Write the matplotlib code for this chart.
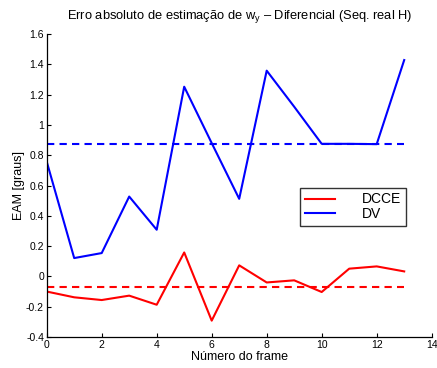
import matplotlib
matplotlib.use("Agg")
import matplotlib.pyplot as plt

plt.rcParams["font.family"] = ["Liberation Sans", "DejaVu Sans"]
plt.rcParams["axes.unicode_minus"] = False
plt.rcParams["mathtext.fontset"] = "custom"
plt.rcParams["mathtext.rm"] = "Liberation Sans"
plt.rcParams["mathtext.it"] = "Liberation Sans"

frames = list(range(14))
dcce = [-0.10, -0.138, -0.156, -0.127, -0.187, 0.158, -0.292,
        0.073, -0.040, -0.026, -0.103, 0.051, 0.066, 0.033]
dv = [0.758, 0.121, 0.154, 0.527, 0.308, 1.252, 0.88,
      0.512, 1.358, 1.12, 0.875, 0.875, 0.873, 1.428]
dcce_mean = -0.07
dv_mean = 0.875

xticks = [0, 2, 4, 6, 8, 10, 12, 14]
yticks = [-0.4, -0.2, 0, 0.2, 0.4, 0.6, 0.8, 1, 1.2, 1.4, 1.6]
ytick_labels = ["-0.4", "-0.2", "0", "0.2", "0.4", "0.6", "0.8", "1", "1.2", "1.4", "1.6"]

W, H = 437, 368
fig = plt.figure(figsize=(W / 100, H / 100), dpi=100)
ax = fig.add_axes([46.7 / W, (H - 337) / H, (431.7 - 46.7) / W, (337 - 34) / H])

ax.plot(frames, dcce, color="#ff0000", lw=1.5, label="DCCE")
ax.plot(frames, dv, color="#0000ff", lw=1.5, label="DV")
ax.plot([frames[0], frames[-1]], [dcce_mean, dcce_mean], color="#ff0000", lw=1.5, ls=(0, (3.5, 2.5)))
ax.plot([frames[0], frames[-1]], [dv_mean, dv_mean], color="#0000ff", lw=1.5, ls=(0, (3.5, 2.5)))

ax.set_xlim(0, 14)
ax.set_ylim(-0.4, 1.6)
ax.set_xticks(xticks)
ax.set_xticklabels([str(t) for t in xticks])
ax.set_yticks(yticks)
ax.set_yticklabels(ytick_labels)
ax.tick_params(direction="in", length=3, width=0.8, labelsize=7.5, pad=2)
for s in ("top", "right"):
    ax.spines[s].set_visible(False)
for s in ("left", "bottom"):
    ax.spines[s].set_linewidth(0.9)

ax.set_xlabel("Número do frame", fontsize=9, labelpad=1)
ax.set_ylabel("EAM [graus]", fontsize=9, labelpad=0.5)
fig.text(240 / W, 1 - 17 / H, r"Erro absoluto de estimação de w$_\mathregular{y}$ – Diferencial (Seq. real H)",
         ha="center", va="center", fontsize=9.3)

leg = ax.legend(loc="upper left", bbox_to_anchor=(300 / W, 1 - 187.5 / H),
                bbox_transform=fig.transFigure, fontsize=10, frameon=True, fancybox=False,
                edgecolor="black", handlelength=2.2, handletextpad=1.9, labelspacing=0.02,
                borderpad=0.35, borderaxespad=0)
leg.get_frame().set_linewidth(1.0)

fig.savefig("out.png", dpi=100)
